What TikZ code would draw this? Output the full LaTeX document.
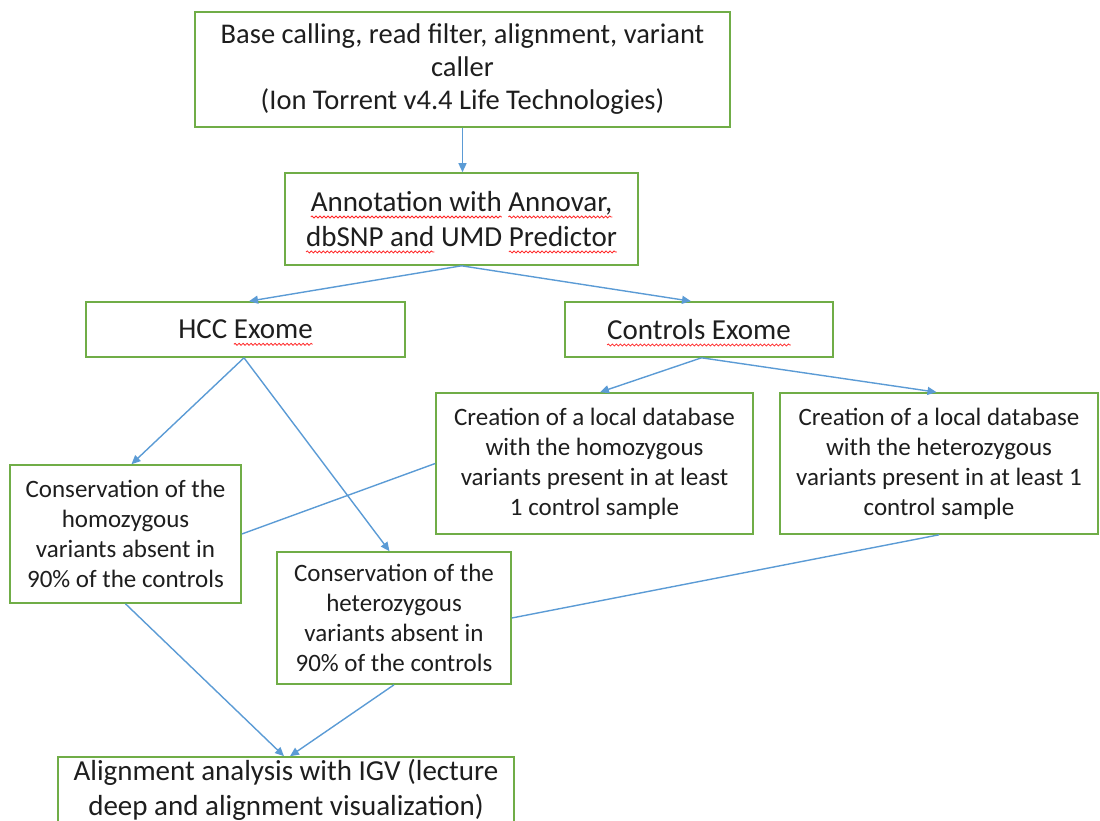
\documentclass[tikz,border=0pt]{standalone}
\usepackage{fontspec}
\setmainfont{Carlito}
\usetikzlibrary{arrows.meta,decorations.pathmorphing}
\definecolor{boxgreen}{HTML}{70AD47}
\definecolor{arrblue}{HTML}{5B9BD5}
\definecolor{txt}{HTML}{1E1E1E}
\newcommand\wavy[1]{\tikz[baseline=(wv.base)]{\node[draw=none,fill=none,minimum width=0pt,minimum height=0pt,inner sep=0pt,outer sep=0pt,text=txt](wv){#1};\draw[overlay,red!85!white,line width=0.8pt,decorate,decoration={snake,amplitude=1pt,segment length=4pt}]([yshift=-5.5pt]wv.base west)--([yshift=-5.5pt]wv.base east);}}
\begin{document}
\begin{tikzpicture}[x=1pt,y=-1pt,
  box/.style={draw=boxgreen,line width=1.6pt,fill=white,align=center,text=txt,inner sep=0pt,font=\fontsize{25}{30}\selectfont},
  bigbox/.style={box,font=\fontsize{29}{35}\selectfont},
  arr/.style={draw=arrblue,line width=1.4pt,-{Triangle[length=9pt,width=8pt]}},
  link/.style={draw=arrblue,line width=1.4pt}]
\useasboundingbox (0,0) rectangle (1100,821);
\clip (0,0) rectangle (1100,821);

\node[bigbox,minimum width=535pt,minimum height=115pt,font=\fontsize{28.5}{33}\selectfont] (b1) at (462.5,69.5)
  {Base calling, read filter, alignment, variant\\caller\\(Ion Torrent v4.4 Life Technologies)};
\node[bigbox,minimum width=353pt,minimum height=92pt] (b2) at (461.5,219)
  {\wavy{Annotation with} \wavy{Annovar,}\\\wavy{dbSNP and} UMD \wavy{Predictor}};
\node[bigbox,minimum width=319pt,minimum height=55pt] (hcc) at (245.5,329.5) {HCC \wavy{Exome}};
\node[bigbox,minimum width=268pt,minimum height=55pt] (ctrl) at (699,329.5) {\wavy{Controls Exome}};
\node[box,minimum width=317pt,minimum height=141pt] (crho) at (594.5,463.5)
  {Creation of a local database\\with the homozygous\\variants present in at least\\1 control sample};
\node[box,minimum width=318pt,minimum height=141pt] (crhe) at (939,463.5)
  {Creation of a local database\\with the heterozygous\\variants present in at least 1\\control sample};
\node[box,minimum width=231pt,minimum height=138pt] (coho) at (125.5,534)
  {Conservation of the\\homozygous\\variants absent in\\90\% of the controls};
\node[box,minimum width=234pt,minimum height=132pt] (cohe) at (394,618)
  {Conservation of the\\heterozygous\\variants absent in\\90\% of the controls};
\node[bigbox,minimum width=456pt,minimum height=66pt] (al) at (286,790)
  {Alignment analysis with IGV (lecture\\deep and alignment visualization)};

\draw[arr] (b1.south) -- (b1.south |- b2.north);
\draw[arr] (b2.south) -- ([xshift=3.5pt]hcc.north);
\draw[arr] (b2.south) -- ([xshift=-8pt]ctrl.north);
\draw[arr] ([xshift=-1.5pt]hcc.south) -- ([xshift=6pt]coho.north);
\draw[arr] ([xshift=-1.5pt]hcc.south) -- ([xshift=-4.5pt]cohe.north);
\draw[arr] ([xshift=2.5pt]ctrl.south) -- ([xshift=5.5pt]crho.north);
\draw[arr] ([xshift=2.5pt]ctrl.south) -- ([xshift=-2.5pt]crhe.north);
\draw[link] (crho.west) -- (coho.east);
\draw[link] (crhe.south) -- (cohe.east);
\draw[arr] (coho.south) -- ([xshift=-2pt]al.north);
\draw[arr] (cohe.south) -- ([xshift=4pt]al.north);
\end{tikzpicture}
\end{document}
